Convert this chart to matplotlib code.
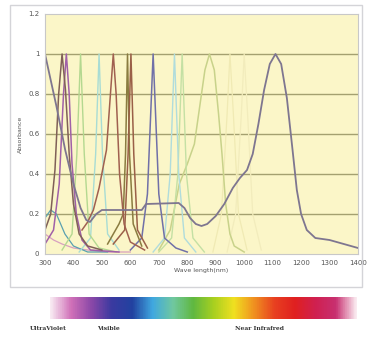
import matplotlib as mpl
mpl.use('Agg')
import matplotlib.pyplot as plt
from matplotlib.colors import LinearSegmentedColormap
from matplotlib.patches import Rectangle
import numpy as np

# absorbance spectra: (wavelength nm, absorbance)
grey_wl = [300, 320, 340, 371, 400, 425, 445, 458, 480, 500, 640, 655, 770, 790,
           810, 830, 850, 870, 900, 930, 960, 985, 1010, 1030, 1050, 1070, 1090,
           1110, 1130, 1150, 1170, 1185, 1200, 1220, 1250, 1300, 1350, 1400]
grey_ab = [1.0, 0.87, 0.74, 0.52, 0.35, 0.23, 0.17, 0.16, 0.2, 0.22, 0.22, 0.25, 0.255, 0.23,
           0.18, 0.15, 0.14, 0.15, 0.19, 0.25, 0.33, 0.38, 0.42, 0.5, 0.65, 0.82, 0.95,
           1.0, 0.95, 0.78, 0.52, 0.32, 0.2, 0.12, 0.08, 0.07, 0.05, 0.03]

brown360_wl = [300, 320, 335, 348, 360, 372, 385, 400, 420, 450, 500]
brown360_ab = [0.12, 0.2, 0.42, 0.8, 1.0, 0.82, 0.5, 0.25, 0.1, 0.04, 0.02]

purple375_wl = [300, 330, 350, 365, 375, 385, 395, 410, 430, 460, 560]
purple375_ab = [0.05, 0.12, 0.35, 0.8, 1.0, 0.8, 0.45, 0.2, 0.07, 0.02, 0.01]

teal_wl = [300, 320, 340, 370, 400, 450, 520]
teal_ab = [0.18, 0.22, 0.2, 0.1, 0.04, 0.01, 0.01]

pink_wl = [300, 330, 360, 400, 450, 520, 600]
pink_ab = [0.1, 0.07, 0.05, 0.03, 0.02, 0.01, 0.01]

green425_wl = [360, 395, 412, 425, 438, 455, 490, 550]
green425_ab = [0.02, 0.1, 0.5, 1.0, 0.5, 0.1, 0.03, 0.01]

cyan490_wl = [420, 460, 478, 490, 502, 520, 560]
cyan490_ab = [0.01, 0.08, 0.5, 1.0, 0.5, 0.1, 0.02]

brown540_wl = [430, 450, 470, 490, 516, 530, 540, 550, 562, 578, 600, 650]
brown540_ab = [0.12, 0.16, 0.22, 0.33, 0.52, 0.8, 1.0, 0.8, 0.4, 0.15, 0.06, 0.02]

olive590_wl = [520, 560, 575, 583, 590, 597, 610, 640]
olive590_ab = [0.05, 0.15, 0.2, 0.5, 1.0, 0.5, 0.15, 0.04]

brown602_wl = [540, 580, 592, 602, 612, 625, 660]
brown602_ab = [0.05, 0.12, 0.5, 1.0, 0.5, 0.12, 0.03]

blue680_wl = [600, 640, 660, 680, 700, 720, 760, 800]
blue680_ab = [0.02, 0.08, 0.3, 1.0, 0.3, 0.08, 0.03, 0.01]

cyan755_wl = [680, 720, 740, 755, 770, 790, 830]
cyan755_ab = [0.01, 0.08, 0.4, 1.0, 0.4, 0.08, 0.01]

green782_wl = [700, 745, 767, 782, 797, 820, 860]
green782_ab = [0.01, 0.08, 0.4, 1.0, 0.4, 0.08, 0.01]

yg878_wl = [700, 740, 772, 800, 825, 845, 862, 878, 895, 910, 922, 935, 950, 965, 1000]
yg878_ab = [0.02, 0.12, 0.35, 0.45, 0.55, 0.75, 0.92, 1.0, 0.92, 0.7, 0.5, 0.25, 0.1, 0.04, 0.01]

pale950_wl = [890, 920, 940, 950, 962, 980, 1010]
pale950_ab = [0.01, 0.2, 0.7, 1.0, 0.7, 0.2, 0.02]

pale1000_wl = [940, 970, 990, 1000, 1012, 1030, 1060]
pale1000_ab = [0.01, 0.2, 0.7, 1.0, 0.7, 0.2, 0.02]

x_ticks = [300, 400, 500, 600, 700, 800, 900, 1000, 1100, 1200, 1300, 1400]
y_ticks = [0, 0.2, 0.4, 0.6, 0.8, 1, 1.2]
y_tick_labels = ['0', '0.2', '0.4', '0.6', '0.8', '1', '1.2']

spectrum_colors = ['#f8eaf2', '#d070b8', '#8a48a8', '#3a3aa0', '#2242a0', '#40a8e0',
                   '#70c8a0', '#60b840', '#a8d020', '#f0e020', '#f09020', '#e84020',
                   '#e02020', '#d02050', '#c83070', '#faeaf0']
band_labels = ['UltraViolet', 'Visible', 'Near Infrafred']

fig = plt.figure(figsize=(3.69, 3.38), dpi=100)
W, H = 369.0, 338.0

# outer frame
fig.patches.append(Rectangle((10 / W, 1 - 287 / H), 352 / W, 282 / H,
                             transform=fig.transFigure, fill=False,
                             edgecolor='#d4d4d8', lw=1.0))

ax = fig.add_axes([45 / W, 1 - 254 / H, 313 / W, 240 / H])
ax.set_facecolor('#fbf6c8')

for y in y_ticks[1:-1]:
    ax.axhline(y, color='#a4a070', lw=1.0, zorder=1)

curves = [
    (pink_wl, pink_ab, '#d8a0c0', 0.9),
    (teal_wl, teal_ab, '#5aa0b0', 0.9),
    (pale950_wl, pale950_ab, '#f0eab4', 0.9),
    (pale1000_wl, pale1000_ab, '#f2ecbc', 0.9),
    (yg878_wl, yg878_ab, '#c8d28a', 1.1),
    (green782_wl, green782_ab, '#c4e0a4', 1.0),
    (cyan755_wl, cyan755_ab, '#b0dcdc', 1.0),
    (cyan490_wl, cyan490_ab, '#a8dcd4', 1.0),
    (green425_wl, green425_ab, '#b4d890', 1.0),
    (blue680_wl, blue680_ab, '#7070a8', 1.1),
    (olive590_wl, olive590_ab, '#8a7c40', 1.1),
    (brown602_wl, brown602_ab, '#9a6048', 1.1),
    (brown540_wl, brown540_ab, '#a06050', 1.1),
    (purple375_wl, purple375_ab, '#a060a8', 1.1),
    (brown360_wl, brown360_ab, '#806058', 1.1),
    (grey_wl, grey_ab, '#7e7690', 1.3),
]
for wl, ab, col, lw in curves:
    ax.plot(wl, ab, color=col, lw=lw, zorder=2)

ax.set_xlim(300, 1400)
ax.set_ylim(0, 1.2)
ax.set_xticks(x_ticks)
ax.set_yticks(y_ticks)
ax.set_yticklabels(y_tick_labels)
ax.tick_params(length=0, labelsize=5, colors='#555555', pad=4)
for s in ax.spines.values():
    s.set_color('#c8c8c8')
    s.set_linewidth(0.8)
ax.set_xlabel('Wave length(nm)', fontsize=4.5, color='#555555', labelpad=2)
ax.set_ylabel('Absorbance', fontsize=4.5, color='#555555', labelpad=4)

# spectrum strip
cax = fig.add_axes([50 / W, 1 - 319 / H, 307 / W, 22 / H])
cmap = LinearSegmentedColormap.from_list('spec', spectrum_colors)
cax.imshow(np.linspace(0, 1, 400)[np.newaxis, :], aspect='auto', cmap=cmap)
cax.axis('off')

label_x = [30, 97, 235]
for lx, lab in zip(label_x, band_labels):
    fig.text(lx / W, 1 - 328 / H, lab, fontsize=4.3, fontweight='bold',
             family='DejaVu Serif', color='#333333', va='center', ha='left')

plt.savefig('out.png', dpi=100)
